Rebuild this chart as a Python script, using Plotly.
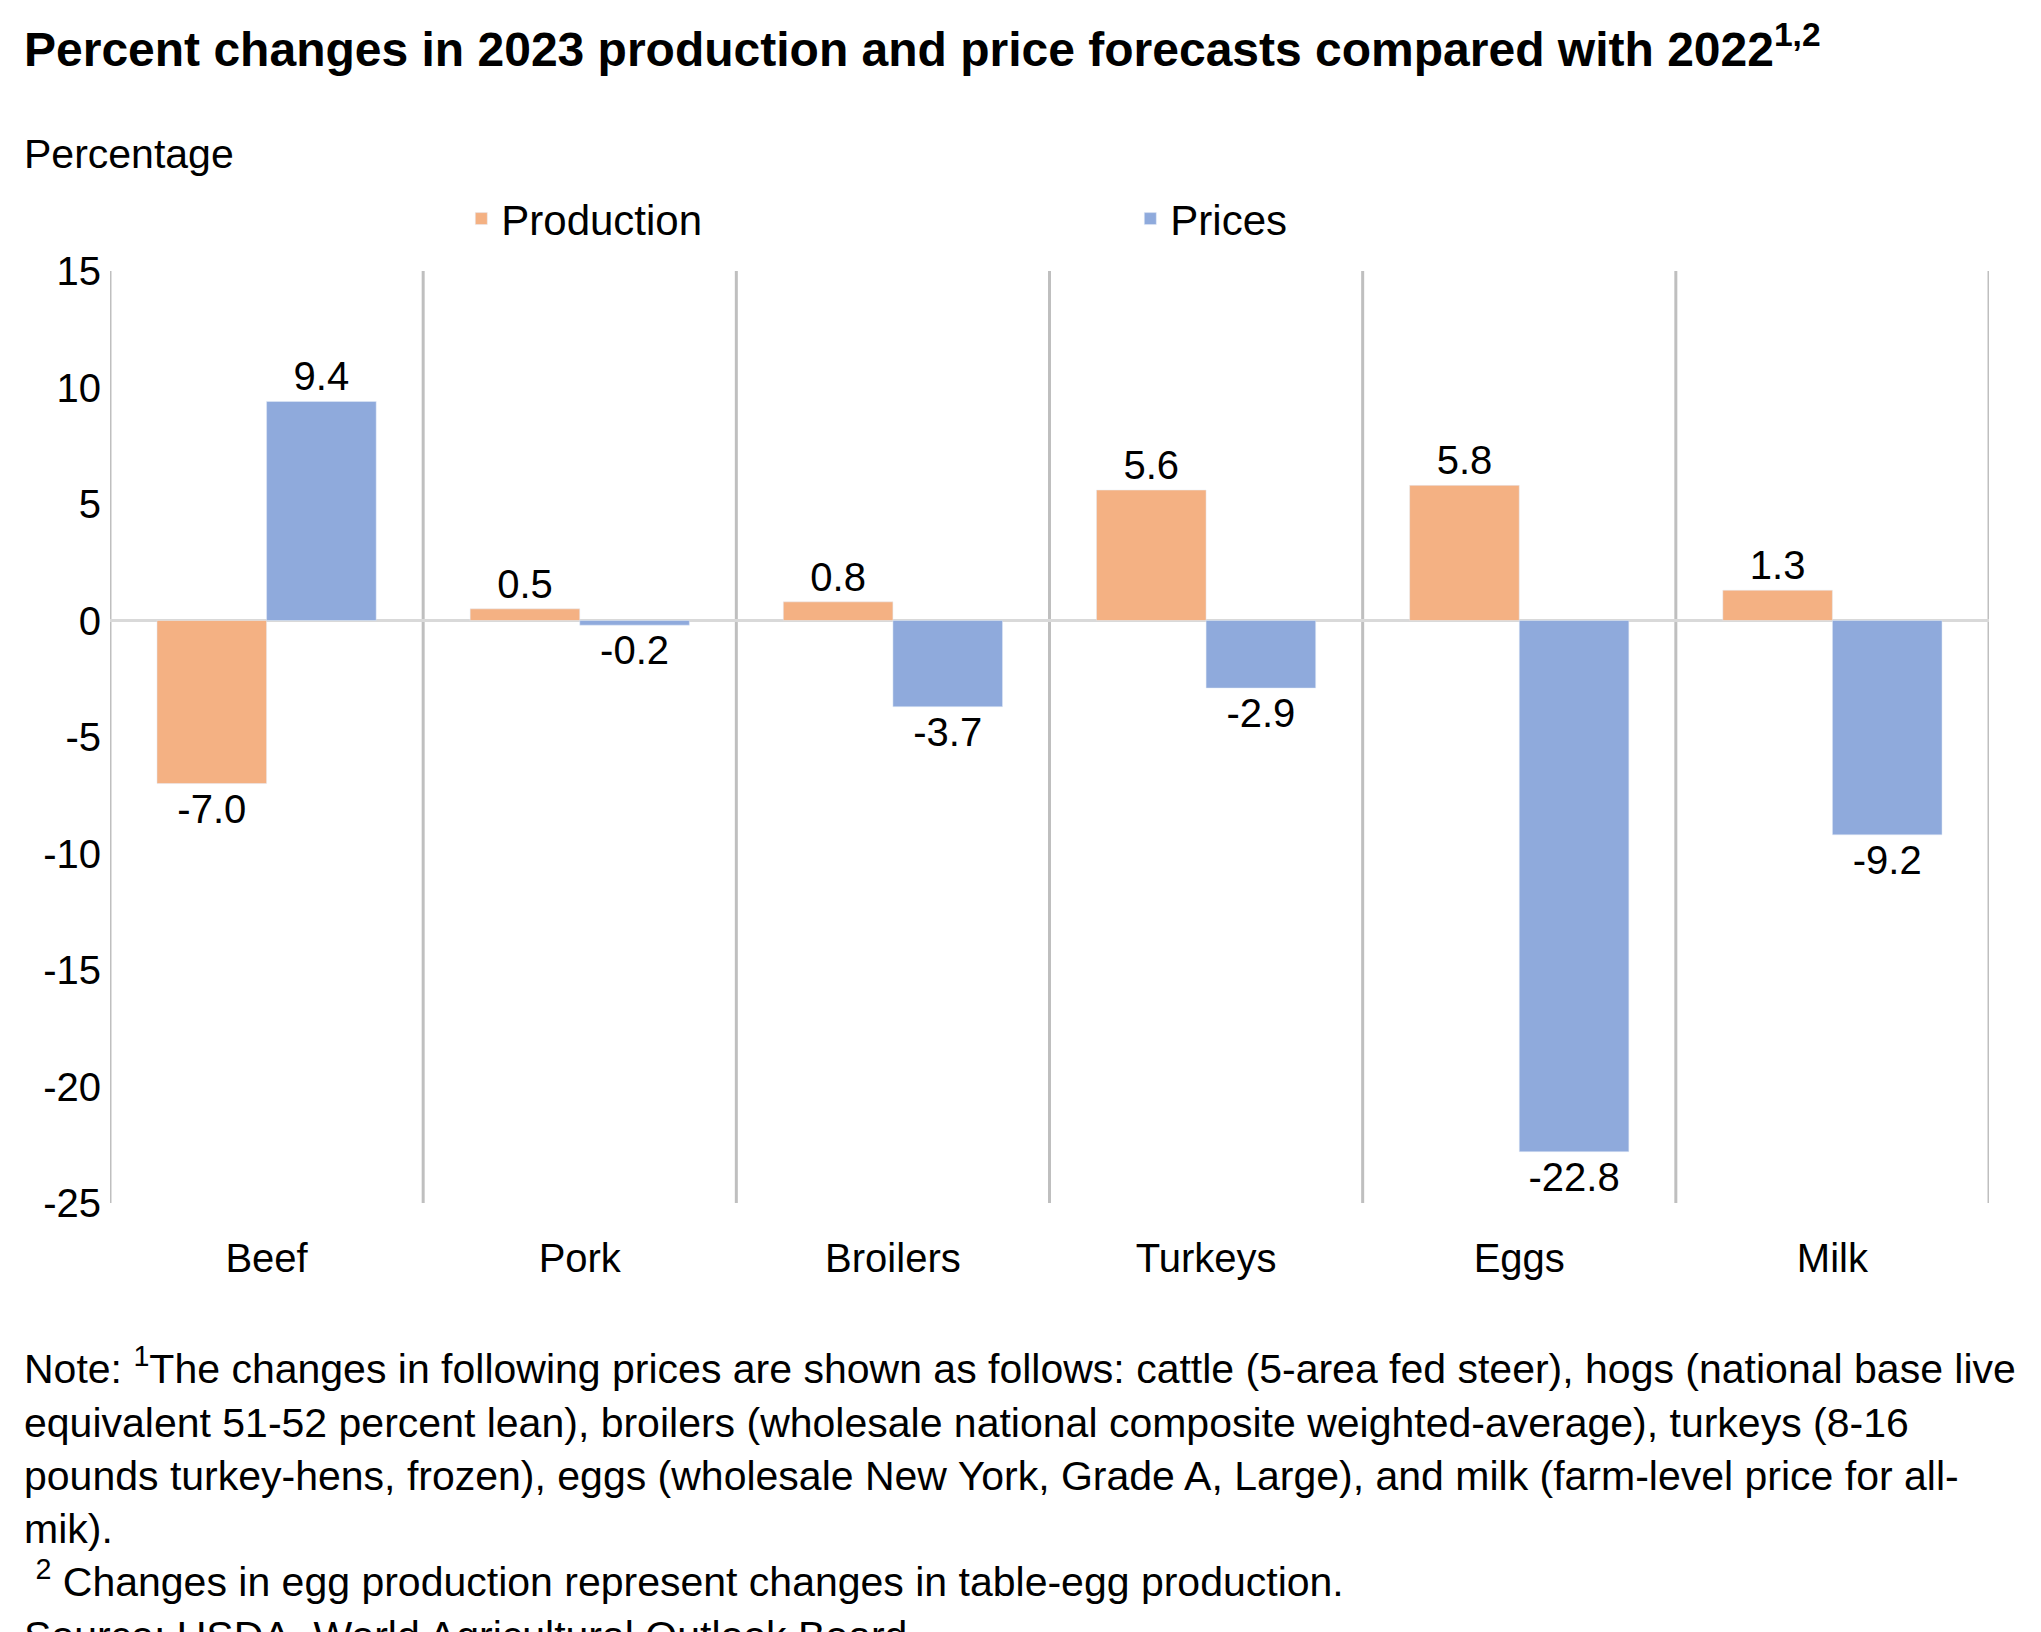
import plotly.graph_objects as go

categories = ["Beef", "Pork", "Broilers", "Turkeys", "Eggs", "Milk"]
production = [-7.0, 0.5, 0.8, 5.6, 5.8, 1.3]
prices = [9.4, -0.2, -3.7, -2.9, -22.8, -9.2]
y_ticks = [15, 10, 5, 0, -5, -10, -15, -20, -25]
y_tick_labels = ["15", "10", "5", "0", "-5", "-10", "-15", "-20", "-25"]

FONT = "Liberation Sans, Arial, sans-serif"
fig = go.Figure()
fig.add_bar(x=categories, y=production, name="Production", marker_color="#F4B183",
            text=[f"{v:.1f}" for v in production], textposition="outside",
            textfont=dict(size=40, color="black"), cliponaxis=False)
fig.add_bar(x=categories, y=prices, name="Prices", marker_color="#8FAADC",
            text=[f"{v:.1f}" for v in prices], textposition="outside",
            textfont=dict(size=40, color="black"), cliponaxis=False)

shapes = []
for i in range(len(categories) + 1):
    shapes.append(dict(type="line", xref="x", yref="y", x0=i - 0.5, x1=i - 0.5,
                       y0=-25, y1=15, line=dict(color="#BFBFBF", width=3), layer="below"))
shapes.append(dict(type="line", xref="x", yref="y", x0=-0.5, x1=len(categories) - 0.5,
                   y0=0, y1=0, line=dict(color="#D9D9D9", width=3), layer="below"))

note = ("Note: <sup>1</sup>The changes in following prices are shown as follows: cattle (5-area fed steer), hogs (national base live<br>"
        "equivalent 51-52 percent lean), broilers (wholesale national composite weighted-average), turkeys (8-16<br>"
        "pounds turkey-hens, frozen), eggs (wholesale New York, Grade A, Large), and milk (farm-level price for all-<br>"
        "mik).<br>"
        " <sup>2</sup> Changes in egg production represent changes in table-egg production.<br>"
        "Source: USDA, World Agricultural Outlook Board.")

L = 102
fig.update_layout(
    width=2041, height=1632, plot_bgcolor="white", paper_bgcolor="white",
    font=dict(family=FONT, size=40, color="black"),
    margin=dict(l=L, r=60, t=263, b=437),
    barmode="group", bargap=0.3, bargroupgap=0,
    showlegend=True,
    legend=dict(orientation="h", x=0.543, xanchor="center", y=1.056, yanchor="middle",
                font=dict(size=42), tracegroupgap=0, entrywidthmode="pixels", entrywidth=624),
    xaxis=dict(showgrid=False, showline=False, ticks="", tickfont=dict(size=40),
               range=[-0.5, 5.5], ticklabelstandoff=28),
    yaxis=dict(range=[-25, 15], tickvals=y_ticks, ticktext=y_tick_labels, showgrid=False,
               zeroline=False, showline=False, tickfont=dict(size=40), ticklabelstandoff=8),
    shapes=shapes,
    annotations=[
        dict(text="<b>Percent changes in 2023 production and price forecasts compared with 2022<sup>1,2</sup></b>",
             xref="paper", yref="paper", x=-0.047, y=1.0, yanchor="top", xanchor="left",
             yshift=263 - 6, showarrow=False, font=dict(size=48)),
        dict(text="Percentage", xref="paper", yref="paper", x=-0.047, xanchor="left",
             y=1.0, yanchor="middle", yshift=117, showarrow=False, font=dict(size=41)),
        dict(text=note, xref="paper", yref="paper", x=-0.047, xanchor="left", align="left",
             y=0, yanchor="top", yshift=-135, showarrow=False, font=dict(size=41)),
    ],
)
fig.write_html("out.html")
